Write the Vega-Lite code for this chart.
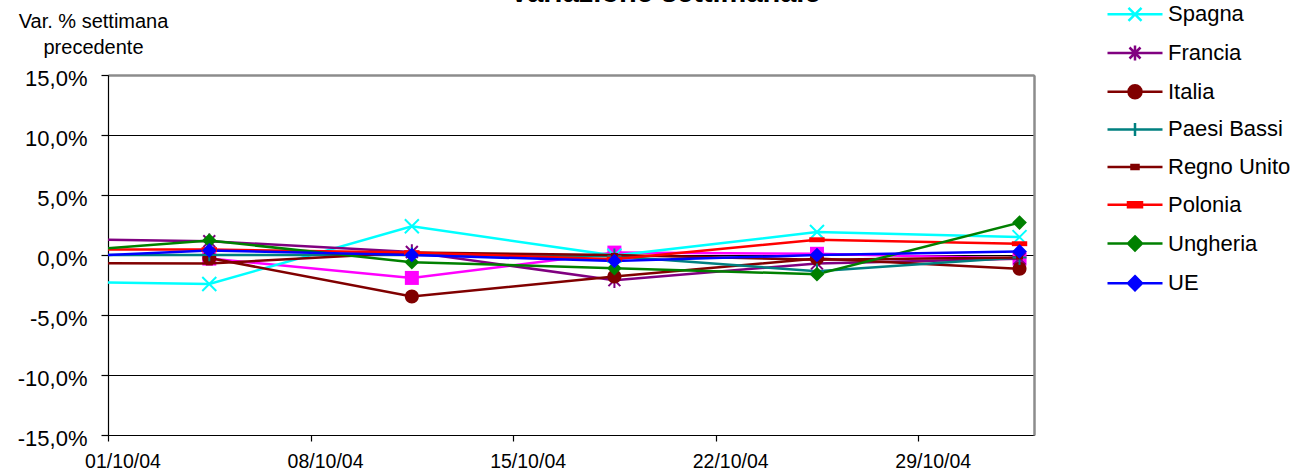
{
  "$schema": "https://vega.github.io/schema/vega-lite/v6.json",
  "width": 926,
  "height": 360,
  "autosize": {"type": "none"},
  "padding": {"left": 108, "top": 75, "right": 282, "bottom": 37},
  "background": "white",
  "title": {
    "text": "Variazione settimanale",
    "font": "Liberation Sans",
    "fontSize": 29,
    "fontWeight": "bold",
    "color": "black",
    "anchor": "middle",
    "frame": "group",
    "baseline": "alphabetic",
    "offset": 0,
    "dx": 94,
    "dy": 28
  },
  "config": {
    "view": {"stroke": null},
    "font": "Liberation Sans"
  },
  "datasets": {
    "main": [
      {"s": "Spagna", "d": "2004-09-27T12:00:00", "v": -2.16},
      {"s": "Spagna", "d": "2004-10-04T12:00:00", "v": -2.42},
      {"s": "Spagna", "d": "2004-10-11T12:00:00", "v": 2.39},
      {"s": "Spagna", "d": "2004-10-18T12:00:00", "v": -0.05},
      {"s": "Spagna", "d": "2004-10-25T12:00:00", "v": 1.91},
      {"s": "Spagna", "d": "2004-11-01T12:00:00", "v": 1.49},
      {"s": "Francia", "d": "2004-09-27T12:00:00", "v": 1.39},
      {"s": "Francia", "d": "2004-10-04T12:00:00", "v": 1.15},
      {"s": "Francia", "d": "2004-10-11T12:00:00", "v": 0.25},
      {"s": "Francia", "d": "2004-10-18T12:00:00", "v": -2.1},
      {"s": "Francia", "d": "2004-10-25T12:00:00", "v": -0.7},
      {"s": "Francia", "d": "2004-11-01T12:00:00", "v": -0.3},
      {"s": "Italia", "d": "2004-10-04T12:00:00", "v": -0.25},
      {"s": "Italia", "d": "2004-10-11T12:00:00", "v": -3.45},
      {"s": "Italia", "d": "2004-10-18T12:00:00", "v": -1.8},
      {"s": "Italia", "d": "2004-10-25T12:00:00", "v": -0.3},
      {"s": "Italia", "d": "2004-11-01T12:00:00", "v": -1.15},
      {"s": "Paesi Bassi", "d": "2004-09-27T12:00:00", "v": 0.0},
      {"s": "Paesi Bassi", "d": "2004-10-04T12:00:00", "v": 0.0},
      {"s": "Paesi Bassi", "d": "2004-10-11T12:00:00", "v": 0.0},
      {"s": "Paesi Bassi", "d": "2004-10-18T12:00:00", "v": -0.1},
      {"s": "Paesi Bassi", "d": "2004-10-25T12:00:00", "v": -1.35},
      {"s": "Paesi Bassi", "d": "2004-11-01T12:00:00", "v": -0.2},
      {"s": "Regno Unito", "d": "2004-09-27T12:00:00", "v": -0.68},
      {"s": "Regno Unito", "d": "2004-10-04T12:00:00", "v": -0.7},
      {"s": "Regno Unito", "d": "2004-10-11T12:00:00", "v": 0.2},
      {"s": "Regno Unito", "d": "2004-10-18T12:00:00", "v": 0.0},
      {"s": "Regno Unito", "d": "2004-10-25T12:00:00", "v": -0.4},
      {"s": "Regno Unito", "d": "2004-11-01T12:00:00", "v": -0.2},
      {"s": "Polonia", "d": "2004-09-27T12:00:00", "v": 0.47},
      {"s": "Polonia", "d": "2004-10-04T12:00:00", "v": 0.45},
      {"s": "Polonia", "d": "2004-10-11T12:00:00", "v": 0.2},
      {"s": "Polonia", "d": "2004-10-18T12:00:00", "v": -0.35},
      {"s": "Polonia", "d": "2004-10-25T12:00:00", "v": 1.27},
      {"s": "Polonia", "d": "2004-11-01T12:00:00", "v": 0.94},
      {"s": "Ungheria", "d": "2004-09-27T12:00:00", "v": -0.06},
      {"s": "Ungheria", "d": "2004-10-04T12:00:00", "v": 1.2},
      {"s": "Ungheria", "d": "2004-10-11T12:00:00", "v": -0.6},
      {"s": "Ungheria", "d": "2004-10-18T12:00:00", "v": -1.1},
      {"s": "Ungheria", "d": "2004-10-25T12:00:00", "v": -1.6},
      {"s": "Ungheria", "d": "2004-11-01T12:00:00", "v": 2.7},
      {"s": "UE", "d": "2004-09-27T12:00:00", "v": -0.38},
      {"s": "UE", "d": "2004-10-04T12:00:00", "v": 0.38},
      {"s": "UE", "d": "2004-10-11T12:00:00", "v": 0.0},
      {"s": "UE", "d": "2004-10-18T12:00:00", "v": -0.5},
      {"s": "UE", "d": "2004-10-25T12:00:00", "v": 0.0},
      {"s": "UE", "d": "2004-11-01T12:00:00", "v": 0.3}
    ],
    "extra": [
      {"s": "Germania", "d": "2004-10-04T12:00:00", "v": -0.3},
      {"s": "Germania", "d": "2004-10-11T12:00:00", "v": -1.91},
      {"s": "Germania", "d": "2004-10-18T12:00:00", "v": 0.2},
      {"s": "Germania", "d": "2004-10-25T12:00:00", "v": 0.1},
      {"s": "Germania", "d": "2004-11-01T12:00:00", "v": -0.3}
    ]
  },
  "resolve": {"axis": {"x": "independent", "y": "independent"}},
  "layer": [
    {
      "data": {"name": "extra"},
      "mark": {"type": "line", "color": "#FF00FF", "strokeWidth": 2.5, "clip": true},
      "encoding": {
        "x": {"field": "d", "type": "temporal",
          "scale": {"domain": [{"year": 2004, "month": 10, "date": 1}, {"year": 2004, "month": 11, "date": 2}], "nice": false},
          "axis": {"orient": "top", "title": null, "labels": false, "ticks": false, "grid": false, "domain": true, "domainColor": "#8c8c8c", "domainWidth": 2.5}},
        "y": {"field": "v", "type": "quantitative",
          "scale": {"domain": [-15, 15], "nice": false, "zero": false},
          "axis": {"orient": "right", "title": null, "labels": false, "ticks": false, "grid": false, "domain": true, "domainColor": "#8c8c8c", "domainWidth": 2.5}}
      }
    },
    {
      "data": {"name": "extra"},
      "mark": {"type": "point", "shape": "M-1,-1H1V1H-1Z", "size": 196, "filled": true, "color": "#FF00FF", "opacity": 1, "clip": true},
      "encoding": {
        "x": {"field": "d", "type": "temporal", "axis": null},
        "y": {"field": "v", "type": "quantitative", "axis": null}
      }
    },
    {
      "data": {"name": "main"},
      "mark": {"type": "line", "strokeWidth": 2.5, "clip": true},
      "encoding": {
        "x": {"field": "d", "type": "temporal",
          "axis": {"orient": "bottom", "title": null, "values": [
              {"year": 2004, "month": 10, "date": 1},
              {"year": 2004, "month": 10, "date": 8},
              {"year": 2004, "month": 10, "date": 15},
              {"year": 2004, "month": 10, "date": 22},
              {"year": 2004, "month": 10, "date": 29}],
            "format": "%d/%m/%y", "labelOffset": 14.5, "labelFont": "Liberation Sans", "labelFontSize": 19.5, "labelColor": "black",
            "labelPadding": 11, "tickSize": 6, "tickColor": "black", "domainColor": "black", "domainWidth": 1.2, "tickWidth": 1.2, "grid": false, "labelFlush": false, "labelOverlap": false}},
        "y": {"field": "v", "type": "quantitative",
          "axis": {"orient": "left", "values": [-15, -10, -5, 0, 5, 10, 15],
            "labelExpr": "(datum.value < 0 ? '-' : '') + replace(format(abs(datum.value), '.1f'), '.', ',') + '%'",
            "labelFont": "Liberation Sans", "labelFontSize": 22, "labelColor": "black", "labelPadding": 14, "labelOffset": 3,
            "tickSize": 7, "tickColor": "black", "tickWidth": 1.2, "domainColor": "black", "domainWidth": 1.2,
            "grid": true, "gridColor": "black", "gridWidth": 1, "gridOpacity": 1,
            "title": ["Var. % settimana", "precedente"], "titleFont": "Liberation Sans", "titleFontSize": 20, "titleFontWeight": "normal", "titleColor": "black",
            "titleAngle": 0, "titleAlign": "center", "titleBaseline": "alphabetic", "titleX": -15, "titleY": -48, "titleLineHeight": 26}},
        "color": {"field": "s", "type": "nominal",
          "scale": {"domain": ["Spagna", "Francia", "Italia", "Paesi Bassi", "Regno Unito", "Polonia", "Ungheria", "UE"],
                    "range": ["#00FFFF", "#800080", "#800000", "#008080", "#800000", "#FF0000", "#008000", "#0000FF"]},
          "legend": {"title": null, "orient": "none", "legendX": 1015.5, "legendY": -72.2, "padding": 0,
            "labelFont": "Liberation Sans", "labelFontSize": 22, "labelColor": "black", "labelLimit": 300,
            "symbolSize": 400, "symbolStrokeWidth": 2.5, "rowPadding": 14.7, "labelOffset": 21.5, "symbolOffset": 0,
            "encode": {"symbols": {"update": {
              "shape": {"signal": "datum.value === 'Spagna' ? 'M-2.75,0H2.75M-0.65,-0.65L0.65,0.65M-0.65,0.65L0.65,-0.65' : datum.value === 'Francia' ? 'M-2.75,0H2.75M-0.55,-0.55L0.55,0.55M-0.55,0.55L0.55,-0.55M0,-0.75V0.75' : datum.value === 'Italia' ? 'M-2.75,0H2.75M0.65,0A0.65,0.65,0,1,1,-0.65,0A0.65,0.65,0,1,1,0.65,0Z' : datum.value === 'Paesi Bassi' ? 'M-2.75,0H2.75M0,-0.65V0.65' : datum.value === 'Regno Unito' ? 'M-2.75,0H2.75M-0.35,-0.2H0.35V0.2H-0.35Z' : datum.value === 'Polonia' ? 'M-2.75,0H2.75M-0.7,-0.25H0.7V0.25H-0.7Z' : 'M-2.75,0H2.75M0,-0.7L0.7,0L0,0.7L-0.7,0Z'"},
              "fill": {"scale": "color", "field": "value"},
              "stroke": {"scale": "color", "field": "value"},
              "strokeWidth": {"value": 2.5},
              "size": {"value": 400},
              "opacity": {"value": 1},
              "fillOpacity": {"value": 1}
            }}}}
        }
      }
    },
    {
      "data": {"name": "main"},
      "transform": [{"filter": "datum.s === 'Spagna'"}],
      "mark": {"type": "point", "shape": "M-1,-1L1,1M-1,1L1,-1", "size": 196, "strokeWidth": 2, "filled": false, "color": "#00FFFF", "opacity": 1, "clip": true},
      "encoding": {"x": {"field": "d", "type": "temporal", "axis": null}, "y": {"field": "v", "type": "quantitative", "axis": null}}
    },
    {
      "data": {"name": "main"},
      "transform": [{"filter": "datum.s === 'Francia'"}],
      "mark": {"type": "point", "shape": "M-0.85,-0.85L0.85,0.85M-0.85,0.85L0.85,-0.85M0,-1.1V1.1", "size": 196, "strokeWidth": 2, "filled": false, "color": "#800080", "opacity": 1, "clip": true},
      "encoding": {"x": {"field": "d", "type": "temporal", "axis": null}, "y": {"field": "v", "type": "quantitative", "axis": null}}
    },
    {
      "data": {"name": "main"},
      "transform": [{"filter": "datum.s === 'Italia'"}],
      "mark": {"type": "point", "shape": "M1,0A1,1,0,1,1,-1,0A1,1,0,1,1,1,0Z", "size": 196, "strokeWidth": 1, "filled": true, "color": "#800000", "opacity": 1, "clip": true},
      "encoding": {"x": {"field": "d", "type": "temporal", "axis": null}, "y": {"field": "v", "type": "quantitative", "axis": null}}
    },
    {
      "data": {"name": "main"},
      "transform": [{"filter": "datum.s === 'Paesi Bassi'"}],
      "mark": {"type": "point", "shape": "M-1,0H1M0,-1.1V1.1", "size": 196, "strokeWidth": 2, "filled": false, "color": "#008080", "opacity": 1, "clip": true},
      "encoding": {"x": {"field": "d", "type": "temporal", "axis": null}, "y": {"field": "v", "type": "quantitative", "axis": null}}
    },
    {
      "data": {"name": "main"},
      "transform": [{"filter": "datum.s === 'Regno Unito'"}],
      "mark": {"type": "point", "shape": "M-0.5,-0.3H0.5V0.3H-0.5Z", "size": 196, "strokeWidth": 0, "filled": true, "color": "#800000", "opacity": 1, "clip": true},
      "encoding": {"x": {"field": "d", "type": "temporal", "axis": null}, "y": {"field": "v", "type": "quantitative", "axis": null}}
    },
    {
      "data": {"name": "main"},
      "transform": [{"filter": "datum.s === 'Polonia'"}],
      "mark": {"type": "point", "shape": "M-1.1,-0.35H1.1V0.35H-1.1Z", "size": 196, "strokeWidth": 0, "filled": true, "color": "#FF0000", "opacity": 1, "clip": true},
      "encoding": {"x": {"field": "d", "type": "temporal", "axis": null}, "y": {"field": "v", "type": "quantitative", "axis": null}}
    },
    {
      "data": {"name": "main"},
      "transform": [{"filter": "datum.s === 'Ungheria'"}],
      "mark": {"type": "point", "shape": "M0,-1.05L1.05,0L0,1.05L-1.05,0Z", "size": 196, "strokeWidth": 0, "filled": true, "color": "#008000", "opacity": 1, "clip": true},
      "encoding": {"x": {"field": "d", "type": "temporal", "axis": null}, "y": {"field": "v", "type": "quantitative", "axis": null}}
    },
    {
      "data": {"name": "main"},
      "transform": [{"filter": "datum.s === 'UE'"}],
      "mark": {"type": "point", "shape": "M0,-1.05L1.05,0L0,1.05L-1.05,0Z", "size": 196, "strokeWidth": 0, "filled": true, "color": "#0000FF", "opacity": 1, "clip": true},
      "encoding": {"x": {"field": "d", "type": "temporal", "axis": null}, "y": {"field": "v", "type": "quantitative", "axis": null}}
    }
  ]
}
